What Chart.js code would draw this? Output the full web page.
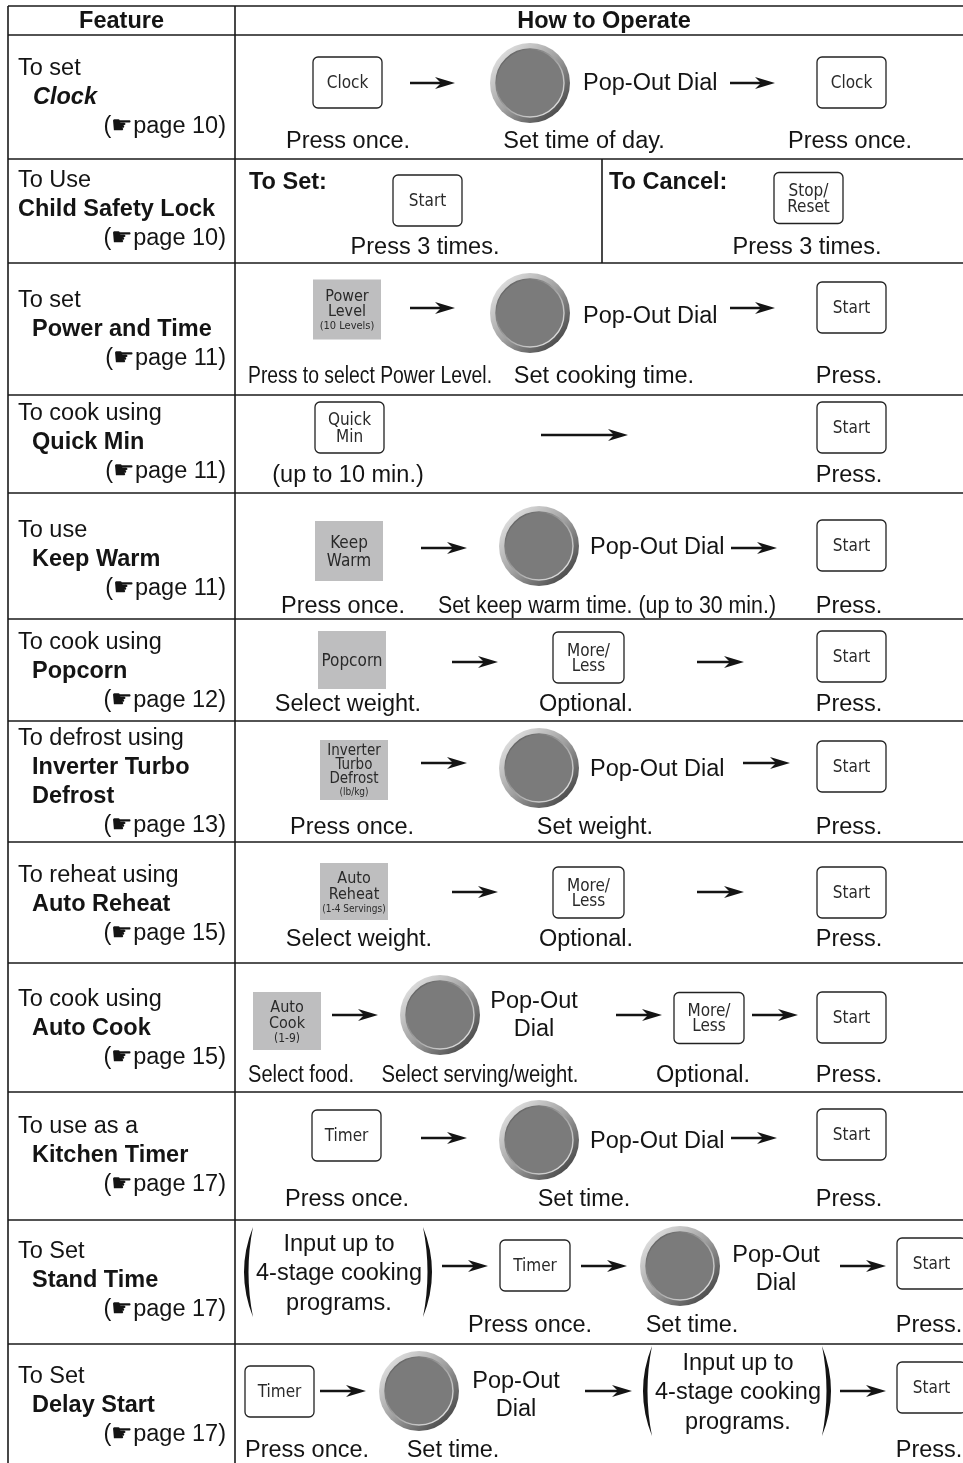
<!DOCTYPE html>
<html>
<head>
<meta charset="UTF-8">
<title>How to Operate</title>
<script src="https://cdn.jsdelivr.net/npm/chart.js@4.4.1/dist/chart.umd.min.js"></script>
<style>
    html, body { margin: 0; padding: 0; background: #fff; }
    canvas { display: block; }
</style>
</head>
<body>
<canvas id="opsChart" width="963" height="1463" style="width:963px;height:1463px"></canvas>
<script>
// ---- table content ----
const headers = ['Feature', 'How to Operate'];
const featureLeads = ['To set', 'To Use', 'To set', 'To cook using', 'To use', 'To cook using',
    'To defrost using', 'To reheat using', 'To cook using', 'To use as a', 'To Set', 'To Set'];
const featureNames = ['Clock', 'Child Safety Lock', 'Power and Time', 'Quick Min', 'Keep Warm', 'Popcorn',
    'Inverter Turbo\nDefrost', 'Auto Reheat', 'Auto Cook', 'Kitchen Timer', 'Stand Time', 'Delay Start'];
const pageRefs = [10, 10, 11, 11, 11, 12, 13, 15, 15, 17, 17, 17];
const keyLabels = [
    ['Clock', 'Clock'],
    ['Start', 'Stop/\nReset'],
    ['Power\nLevel\n(10 Levels)', 'Start'],
    ['Quick\nMin', 'Start'],
    ['Keep\nWarm', 'Start'],
    ['Popcorn', 'More/\nLess', 'Start'],
    ['Inverter\nTurbo\nDefrost\n(lb/kg)', 'Start'],
    ['Auto\nReheat\n(1-4 Servings)', 'More/\nLess', 'Start'],
    ['Auto\nCook\n(1-9)', 'More/\nLess', 'Start'],
    ['Timer', 'Start'],
    ['Timer', 'Start'],
    ['Timer', 'Start']
];
const captions = [
    ['Press once.', 'Set time of day.', 'Press once.'],
    ['Press 3 times.', 'Press 3 times.'],
    ['Press to select Power Level.', 'Set cooking time.', 'Press.'],
    ['(up to 10 min.)', 'Press.'],
    ['Press once.', 'Set keep warm time. (up to 30 min.)', 'Press.'],
    ['Select weight.', 'Optional.', 'Press.'],
    ['Press once.', 'Set weight.', 'Press.'],
    ['Select weight.', 'Optional.', 'Press.'],
    ['Select food.', 'Select serving/weight.', 'Optional.', 'Press.'],
    ['Press once.', 'Set time.', 'Press.'],
    ['Press once.', 'Set time.', 'Press.'],
    ['Press once.', 'Set time.', 'Press.']
];
const modeLabels = ['To Set:', 'To Cancel:'];
const dialLabel = 'Pop-Out Dial';
const programNote = ['Input up to', '4-stage cooking', 'programs.'];

// ---- layout (page units, mapped through the chart scales) ----
const W = 963, H = 1463;
const rowEdges = [6, 35, 159, 263, 395, 493, 619, 721, 842, 963, 1092, 1220, 1344, 1463];
const leadY = [67, 179, 299, 412, 529, 641, 737, 874, 998, 1125, 1250, 1375];
const nameX = [33, 18, 32, 32, 32, 32, 32, 32, 32, 32, 32, 32];
const rowLayout = [
    [
        { t: 'key', i: 0, x: 347.5, y: 82.5 }, { t: 'arrow', x1: 410, x2: 455, y: 83 },
        { t: 'dial', x: 530, y: 83 }, { t: 'dialText', x: 583, y: 82 },
        { t: 'arrow', x1: 730, x2: 775, y: 83 }, { t: 'key', i: 1, x: 851.5, y: 82.5 },
        { t: 'cap', i: 0, x: 348, y: 140 }, { t: 'cap', i: 1, x: 584, y: 140 }, { t: 'cap', i: 2, x: 850, y: 140 }
    ],
    [
        { t: 'mode', i: 0, x: 249, y: 181 }, { t: 'key', i: 0, x: 427.5, y: 200.5 },
        { t: 'cap', i: 0, x: 425, y: 246 }, { t: 'vline', x: 602, y1: 159, y2: 263 },
        { t: 'mode', i: 1, x: 609, y: 181 }, { t: 'key', i: 1, x: 808.5, y: 198, lh: 16 },
        { t: 'cap', i: 1, x: 807, y: 246 }
    ],
    [
        { t: 'key', i: 0, x: 347, y: 309.5, w: 68, h: 60, gray: true, fs: 16, lh: 15, ss: 11 },
        { t: 'arrow', x1: 410, x2: 455, y: 308 }, { t: 'dial', x: 530, y: 313 },
        { t: 'dialText', x: 583, y: 315 }, { t: 'arrow', x1: 730, x2: 775, y: 308 },
        { t: 'key', i: 1, x: 851.5, y: 307.5 },
        { t: 'cap', i: 0, x: 370, y: 375, w: 244 }, { t: 'cap', i: 1, x: 604, y: 375 }, { t: 'cap', i: 2, x: 849, y: 375 }
    ],
    [
        { t: 'key', i: 0, x: 349.5, y: 427.5, lh: 17 }, { t: 'arrow', x1: 541, x2: 628, y: 435 },
        { t: 'key', i: 1, x: 851.5, y: 427.5 },
        { t: 'cap', i: 0, x: 348, y: 474 }, { t: 'cap', i: 1, x: 849, y: 474 }
    ],
    [
        { t: 'key', i: 0, x: 349, y: 551, w: 68, h: 60, gray: true, lh: 18 },
        { t: 'arrow', x1: 421, x2: 467, y: 548 }, { t: 'dial', x: 539, y: 546 },
        { t: 'dialText', x: 590, y: 546 }, { t: 'arrow', x1: 731, x2: 777, y: 548 },
        { t: 'key', i: 1, x: 851.5, y: 545.5 },
        { t: 'cap', i: 0, x: 343, y: 605 }, { t: 'cap', i: 1, x: 607, y: 605, w: 338 }, { t: 'cap', i: 2, x: 849, y: 605 }
    ],
    [
        { t: 'key', i: 0, x: 352, y: 660, w: 68, h: 58, gray: true },
        { t: 'arrow', x1: 452, x2: 498, y: 662 }, { t: 'key', i: 1, x: 588.5, y: 657.5, w: 71, lh: 15 },
        { t: 'arrow', x1: 697, x2: 744, y: 662 }, { t: 'key', i: 2, x: 851.5, y: 656.5 },
        { t: 'cap', i: 0, x: 348, y: 703 }, { t: 'cap', i: 1, x: 586, y: 703 }, { t: 'cap', i: 2, x: 849, y: 703 }
    ],
    [
        { t: 'key', i: 0, x: 354, y: 770, w: 68, h: 60, gray: true, fs: 15, lh: 14, ss: 10 },
        { t: 'arrow', x1: 421, x2: 467, y: 763 }, { t: 'dial', x: 539, y: 768 },
        { t: 'dialText', x: 590, y: 768 }, { t: 'arrow', x1: 743, x2: 790, y: 763 },
        { t: 'key', i: 1, x: 851.5, y: 766.5 },
        { t: 'cap', i: 0, x: 352, y: 826 }, { t: 'cap', i: 1, x: 595, y: 826 }, { t: 'cap', i: 2, x: 849, y: 826 }
    ],
    [
        { t: 'key', i: 0, x: 354, y: 891.5, w: 68, h: 57, gray: true, fs: 16, lh: 16, ss: 10 },
        { t: 'arrow', x1: 452, x2: 498, y: 892 }, { t: 'key', i: 1, x: 588.5, y: 892.5, w: 71, lh: 15 },
        { t: 'arrow', x1: 697, x2: 744, y: 892 }, { t: 'key', i: 2, x: 851.5, y: 892.5 },
        { t: 'cap', i: 0, x: 359, y: 938 }, { t: 'cap', i: 1, x: 586, y: 938 }, { t: 'cap', i: 2, x: 849, y: 938 }
    ],
    [
        { t: 'key', i: 0, x: 287, y: 1021, w: 68, h: 58, gray: true, fs: 16, lh: 16, ss: 12 },
        { t: 'arrow', x1: 332, x2: 378, y: 1015 }, { t: 'dial', x: 440, y: 1015 },
        { t: 'dialText2', x: 534, y: 1014 }, { t: 'arrow', x1: 616, x2: 662, y: 1015 },
        { t: 'key', i: 1, x: 709, y: 1018, w: 70, lh: 15 }, { t: 'arrow', x1: 752, x2: 798, y: 1015 },
        { t: 'key', i: 2, x: 851.5, y: 1017.5 },
        { t: 'cap', i: 0, x: 301, y: 1074, w: 106 }, { t: 'cap', i: 1, x: 480, y: 1074, w: 197 },
        { t: 'cap', i: 2, x: 703, y: 1074 }, { t: 'cap', i: 3, x: 849, y: 1074 }
    ],
    [
        { t: 'key', i: 0, x: 346.5, y: 1135.5 }, { t: 'arrow', x1: 421, x2: 467, y: 1138 },
        { t: 'dial', x: 539, y: 1140 }, { t: 'dialText', x: 590, y: 1140 },
        { t: 'arrow', x1: 731, x2: 777, y: 1138 }, { t: 'key', i: 1, x: 851.5, y: 1134.5 },
        { t: 'cap', i: 0, x: 347, y: 1198 }, { t: 'cap', i: 1, x: 584, y: 1198 }, { t: 'cap', i: 2, x: 849, y: 1198 }
    ],
    [
        { t: 'prog', x: 339, y: 1272 }, { t: 'arrow', x1: 442, x2: 488, y: 1266 },
        { t: 'key', i: 0, x: 535, y: 1265.5, w: 70 }, { t: 'arrow', x1: 581, x2: 627, y: 1266 },
        { t: 'dial', x: 680, y: 1266 }, { t: 'dialText2', x: 776, y: 1267.5 },
        { t: 'arrow', x1: 840, x2: 886, y: 1266 }, { t: 'key', i: 1, x: 931.5, y: 1263.5 },
        { t: 'cap', i: 0, x: 530, y: 1324 }, { t: 'cap', i: 1, x: 692, y: 1324 }, { t: 'cap', i: 2, x: 929, y: 1324 }
    ],
    [
        { t: 'key', i: 0, x: 279.5, y: 1391.5 }, { t: 'arrow', x1: 320, x2: 366, y: 1391 },
        { t: 'dial', x: 419, y: 1391 }, { t: 'dialText2', x: 516, y: 1393.5 },
        { t: 'arrow', x1: 585, x2: 632, y: 1391 }, { t: 'prog', x: 738, y: 1391 },
        { t: 'arrow', x1: 840, x2: 886, y: 1391 }, { t: 'key', i: 1, x: 931.5, y: 1387.5 },
        { t: 'cap', i: 0, x: 307, y: 1449 }, { t: 'cap', i: 1, x: 453, y: 1449 }, { t: 'cap', i: 2, x: 929, y: 1449 }
    ]
];

const INK = '#141414';
const SANS = '"Liberation Sans", Arial, sans-serif';
const KEY_FONT = '"Liberation Sans Narrow", "DejaVu Sans Condensed", sans-serif';
const TEXT_PX = 23.5;
const TEXT_DY = 2;   // canvas "middle" sits a little high for this face

// dial image used as the point style of the dial dataset
function makeDial() {
    const c = document.createElement('canvas');
    c.width = 84; c.height = 84;
    const g = c.getContext('2d');
    const cx = 42, cy = 42;
    const ring = g.createLinearGradient(cx - 32, cy - 32, cx + 32, cy + 32);
    ring.addColorStop(0, '#e2e2e2');
    ring.addColorStop(0.5, '#a0a0a0');
    ring.addColorStop(1, '#444');
    g.beginPath(); g.arc(cx, cy, 40, 0, Math.PI * 2);
    g.fillStyle = ring; g.fill();
    const rim = g.createLinearGradient(cx - 30, cy - 30, cx + 30, cy + 30);
    rim.addColorStop(0, '#5a5a5a');
    rim.addColorStop(1, '#e8e8e8');
    g.beginPath(); g.arc(cx, cy, 34, 0, Math.PI * 2);
    g.fillStyle = '#7b7b7b'; g.fill();
    g.lineWidth = 1.4; g.strokeStyle = rim; g.stroke();
    return c;
}

const dialPoints = [];
rowLayout.forEach(items => items.forEach(it => {
    if (it.t === 'dial') dialPoints.push({ x: it.x, y: it.y });
}));

function drawKey(ctx, label, cx, cy, it) {
    const w = it.w || 69, h = it.h || 51;
    const x = cx - w / 2, y = cy - h / 2;
    if (it.gray) {
        ctx.fillStyle = '#bebebf';
        ctx.fillRect(x, y, w, h);
    } else {
        ctx.beginPath();
        ctx.roundRect(x, y, w, h, 5);
        ctx.fillStyle = '#fff'; ctx.fill();
        ctx.lineWidth = 1.3; ctx.strokeStyle = '#222'; ctx.stroke();
    }
    const fs = it.fs || 17, lh = it.lh || 16, ss = it.ss || 11;
    const lines = label.split('\n');
    const heights = lines.map(l => l.startsWith('(') ? ss + 2 : lh);
    let yy = cy + 1.5 - heights.reduce((a, b) => a + b, 0) / 2;
    ctx.fillStyle = '#2a2a2a';
    ctx.textAlign = 'center';
    ctx.textBaseline = 'middle';
    lines.forEach((l, k) => {
        ctx.font = (l.startsWith('(') ? ss : fs) + 'px ' + KEY_FONT;
        ctx.fillText(l, cx, yy + heights[k] / 2);
        yy += heights[k];
    });
}

function drawArrow(ctx, x1, x2, y) {
    ctx.strokeStyle = INK; ctx.lineWidth = 2.6;
    ctx.beginPath(); ctx.moveTo(x1, y); ctx.lineTo(x2 - 12, y); ctx.stroke();
    ctx.fillStyle = INK;
    ctx.beginPath();
    ctx.moveTo(x2, y);
    ctx.lineTo(x2 - 20, y - 6);
    ctx.lineTo(x2 - 14, y);
    ctx.lineTo(x2 - 20, y + 6);
    ctx.closePath(); ctx.fill();
}

function drawParen(ctx, x, y1, y2, dir) {
    // dir = -1 for "(", +1 for ")"
    const mid = (y1 + y2) / 2;
    ctx.fillStyle = INK;
    ctx.beginPath();
    ctx.moveTo(x, y1);
    ctx.quadraticCurveTo(x + dir * 18, mid, x, y2);
    ctx.quadraticCurveTo(x + dir * 9, mid, x, y1);
    ctx.fill();
}

function text(ctx, str, x, y, align, font, maxW) {
    ctx.font = font;
    ctx.textAlign = align;
    ctx.textBaseline = 'middle';
    ctx.fillStyle = INK;
    if (maxW) ctx.fillText(str, x, y + TEXT_DY, maxW); else ctx.fillText(str, x, y + TEXT_DY);
}

const tablePlugin = {
    id: 'operateTable',
    beforeDatasetsDraw(chart) {
        const ctx = chart.ctx;
        const sx = v => chart.scales.x.getPixelForValue(v);
        const sy = v => chart.scales.y.getPixelForValue(v);
        ctx.save();
        ctx.fillStyle = '#fff';
        ctx.fillRect(0, 0, chart.width, chart.height);
        ctx.strokeStyle = '#1a1a1a';
        ctx.lineWidth = 1.6;
        rowEdges.forEach((e, k) => {
            if (k === rowEdges.length - 1) return;
            ctx.beginPath(); ctx.moveTo(sx(8), sy(e)); ctx.lineTo(sx(W), sy(e)); ctx.stroke();
        });
        [8, 235].forEach(c => {
            ctx.beginPath(); ctx.moveTo(sx(c), sy(rowEdges[0])); ctx.lineTo(sx(c), sy(H)); ctx.stroke();
        });
        rowLayout.forEach(items => items.forEach(it => {
            if (it.t !== 'vline') return;
            ctx.beginPath(); ctx.moveTo(sx(it.x), sy(it.y1)); ctx.lineTo(sx(it.x), sy(it.y2)); ctx.stroke();
        }));
        ctx.restore();
    },
    afterDatasetsDraw(chart) {
        const ctx = chart.ctx;
        const sx = v => chart.scales.x.getPixelForValue(v);
        const sy = v => chart.scales.y.getPixelForValue(v);
        const reg = TEXT_PX + 'px ' + SANS;
        const bold = 'bold ' + TEXT_PX + 'px ' + SANS;
        ctx.save();
        // header
        text(ctx, headers[0], sx(121.5), sy(20), 'center', bold);
        text(ctx, headers[1], sx(604), sy(20), 'center', bold);
        // feature column
        featureLeads.forEach((lead, r) => {
            const y0 = leadY[r];
            text(ctx, lead, sx(18), sy(y0), 'left', reg);
            const names = featureNames[r].split('\n');
            const nf = r === 0 ? 'italic bold ' + TEXT_PX + 'px ' + SANS : bold;
            names.forEach((n, k) => text(ctx, n, sx(nameX[r]), sy(y0 + 29 * (k + 1)), 'left', nf));
            text(ctx, '(\u261Bpage ' + pageRefs[r] + ')', sx(226), sy(y0 + 29 * (names.length + 1)), 'right', reg);
        });
        // operation column
        rowLayout.forEach((items, r) => items.forEach(it => {
            if (it.t === 'key') drawKey(ctx, keyLabels[r][it.i], sx(it.x), sy(it.y), it);
            else if (it.t === 'arrow') drawArrow(ctx, sx(it.x1), sx(it.x2), sy(it.y));
            else if (it.t === 'dialText') text(ctx, dialLabel, sx(it.x), sy(it.y), 'left', reg);
            else if (it.t === 'dialText2') {
                const parts = dialLabel.split(' ');
                text(ctx, parts[0], sx(it.x), sy(it.y - 14), 'center', reg);
                text(ctx, parts[1], sx(it.x), sy(it.y + 14), 'center', reg);
            }
            else if (it.t === 'cap') text(ctx, captions[r][it.i], sx(it.x), sy(it.y), 'center', reg, it.w);
            else if (it.t === 'mode') text(ctx, modeLabels[it.i], sx(it.x), sy(it.y), 'left', bold);
            else if (it.t === 'prog') {
                programNote.forEach((l, k) => text(ctx, l, sx(it.x), sy(it.y + (k - 1) * 29.5), 'center', reg));
                drawParen(ctx, sx(it.x - 86), sy(it.y - 45), sy(it.y + 45), -1);
                drawParen(ctx, sx(it.x + 84), sy(it.y - 45), sy(it.y + 45), 1);
            }
        }));
        ctx.restore();
    }
};

new Chart(document.getElementById('opsChart'), {
    type: 'scatter',
    data: {
        datasets: [{
            label: dialLabel,
            data: dialPoints,
            pointStyle: makeDial(),
            pointRadius: 40,
            pointHoverRadius: 40,
            clip: false
        }]
    },
    options: {
        responsive: false,
        animation: false,
        devicePixelRatio: 1,
        events: [],
        layout: { padding: 0, autoPadding: false },
        plugins: { legend: { display: false }, tooltip: { enabled: false } },
        scales: {
            x: { type: 'linear', min: 0, max: W, display: false },
            y: { type: 'linear', min: 0, max: H, reverse: true, display: false }
        }
    },
    plugins: [tablePlugin]
});
</script>
</body>
</html>
